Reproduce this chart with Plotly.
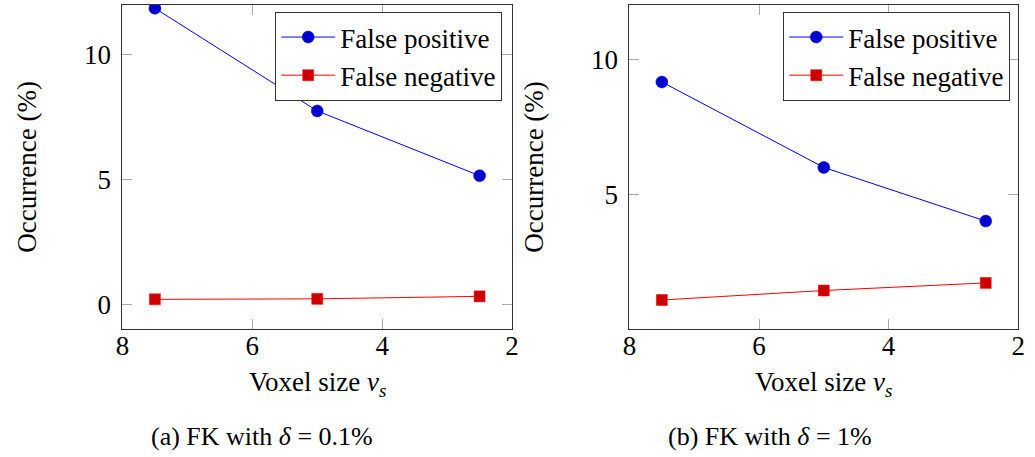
import plotly.graph_objects as go

# Data
voxel_sizes = [7.5, 5.0, 2.5]
fp_a = [11.87, 7.75, 5.15]
fn_a = [0.19, 0.21, 0.31]
fp_b = [9.16, 6.01, 4.03]
fn_b = [1.12, 1.47, 1.75]
x_ticks = [8, 6, 4, 2]
y_ticks_a = [0, 5, 10]
y_ticks_b = [5, 10]
captions = ["(a) FK with <i>δ</i> = 0.1%", "(b) FK with <i>δ</i> = 1%"]

W, H = 1035, 457
FONT = "Liberation Serif"
FS = 27
BLUE, BLUE_FILL = "#0000ff", "#0000cc"
RED, RED_FILL = "#ff0000", "#cc0000"

fig = go.Figure()

def add_pair(fp, fn, xa, ya, legend):
    fig.add_trace(go.Scatter(x=voxel_sizes, y=fp, mode="lines+markers", name="False positive",
                             xaxis=xa, yaxis=ya, legend=legend,
                             line=dict(color=BLUE, width=1),
                             marker=dict(symbol="circle", size=12, color=BLUE_FILL,
                                         line=dict(color=BLUE, width=0.5))))
    fig.add_trace(go.Scatter(x=voxel_sizes, y=fn, mode="lines+markers", name="False negative",
                             xaxis=xa, yaxis=ya, legend=legend,
                             line=dict(color=RED, width=1),
                             marker=dict(symbol="square", size=11, color=RED_FILL,
                                         line=dict(color=RED, width=0.5))))

add_pair(fp_a, fn_a, "x", "y", "legend")
add_pair(fp_b, fn_b, "x2", "y2", "legend2")

ytop, ybot = 5, 329
ydom = [1 - ybot / H, 1 - ytop / H]
axis_common = dict(showline=True, mirror="ticks", linecolor="#333333", linewidth=1,
                   ticks="inside", ticklen=10, tickcolor="#aaaaaa", tickwidth=1,
                   showgrid=False, zeroline=False,
                   tickfont=dict(family=FONT, size=FS, color="#000000"))

panels = [((117, 512), [-1.0, 12.0], y_ticks_a), ((631, 1025), [0.05, 12.0], y_ticks_b)]
for i, ((x0, x1), yr, yt) in enumerate(panels):
    sfx = "" if i == 0 else str(i + 1)
    fig.layout["xaxis" + sfx] = dict(axis_common, domain=[x0 / W, x1 / W], range=[8, 2],
                                     tickvals=x_ticks, anchor="y" + sfx, ticklabelstandoff=-7)
    fig.layout["yaxis" + sfx] = dict(axis_common, domain=ydom, range=yr, tickvals=yt,
                                     anchor="x" + sfx, ticklabelstandoff=5)
    xc = (x0 + x1) / 2 / W
    # x-axis title
    fig.add_annotation(x=xc, y=1 - 384 / H, xref="paper", yref="paper",
                       text="Voxel size <i>v<sub>s</sub></i>", showarrow=False,
                       font=dict(family=FONT, size=FS, color="#000000"),
                       xanchor="center", yanchor="middle")
    # y-axis title
    fig.add_annotation(x=(x0 - 97) / W, y=(ydom[0] + ydom[1]) / 2, xref="paper", yref="paper",
                       text="Occurrence (%)", showarrow=False, textangle=-90,
                       font=dict(family=FONT, size=FS, color="#000000"),
                       xanchor="center", yanchor="middle")
    # caption
    fig.add_annotation(x=(259 if i == 0 else 773) / W, y=1 - 436 / H, xref="paper", yref="paper",
                       text=captions[i], showarrow=False,
                       font=dict(family=FONT, size=26, color="#000000"),
                       xanchor="center", yanchor="middle")

legend_style = dict(bordercolor="#333333", borderwidth=1, bgcolor="#ffffff",
                    font=dict(family=FONT, size=27, color="#000000"),
                    xanchor="right", yanchor="top", yref="paper", xref="paper",
                    tracegroupgap=0, itemwidth=54)
fig.update_layout(
    width=W, height=H, margin=dict(l=0, r=0, t=0, b=0),
    paper_bgcolor="#ffffff", plot_bgcolor="#ffffff",
    legend=dict(legend_style, x=502 / W, y=1 - 12 / H),
    legend2=dict(legend_style, x=1017 / W, y=1 - 12 / H),
)

fig.write_html("out.html")
